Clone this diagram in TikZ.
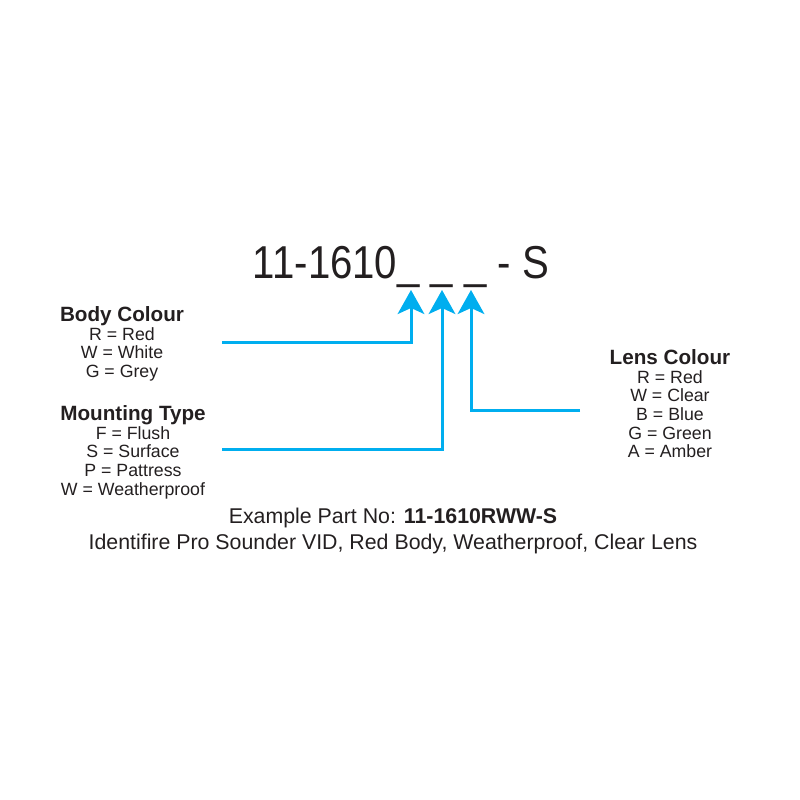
\documentclass[tikz,border=0pt]{standalone}
\usepackage{fontspec}
\setmainfont{Liberation Sans}
\usetikzlibrary{arrows.meta, positioning}
\definecolor{feedblue}{HTML}{00AEEF}
\definecolor{inkgrey}{HTML}{231F20}

\begin{document}
\begin{tikzpicture}[x=0.75pt, y=-0.75pt,
        head/.style={inner sep=0pt, text=inkgrey, font=\bfseries\fontsize{15.5}{17}\selectfont},
        choices/.style={inner sep=0pt, align=center, text=inkgrey, font=\fontsize{13.3}{14}\selectfont},
        feed/.style={draw=feedblue, line width=2.25pt, -{Stealth[length=18pt, width=20pt, inset=4.5pt]}}]
        \useasboundingbox (0,0) rectangle (800,800);

        \node[anchor=base, inner sep=0pt, text=inkgrey, font=\fontsize{34.6}{40}\selectfont] (code) at (401,278) {\scalebox{0.87}[1]{11-1610\_ \_ \_ - S}};

        \node[head, anchor=base] (bodyhead) at (122,321) {Body Colour};
        \node[choices, below=4.5pt of bodyhead.base] (bodylist) {R = Red\\ W = White\\ G = Grey};

        \node[head, anchor=base] (mounthead) at (133,420) {Mounting Type};
        \node[choices, below=4.5pt of mounthead.base] (mountlist) {F = Flush\\ S = Surface\\ P = Pattress\\ W = Weatherproof};

        \node[head, anchor=base] (lenshead) at (670,364) {Lens Colour};
        \node[choices, below=4.5pt of lenshead.base] (lenslist) {R = Red\\ W = Clear\\ B = Blue\\ G = Green\\ A = Amber};

        \node[anchor=base, inner sep=0pt, text=inkgrey, font=\fontsize{16}{18}\selectfont] (example) at (393,523) {Example Part No: \textbf{11-1610RWW-S}};
        \node[anchor=base, inner sep=0pt, text=inkgrey, font=\fontsize{16}{18}\selectfont] (caption) at (393,549) {Identifire Pro Sounder VID, Red Body, Weatherproof, Clear Lens};

        \coordinate (slot1) at (411,290);
        \coordinate (slot2) at (442,290);
        \coordinate (slot3) at (471,290);
        \coordinate (bodyend) at (222,342);
        \coordinate (mountend) at (222,449);
        \coordinate (lensend) at (580,410);

        \draw[feed] (bodyend) -| (slot1);
        \draw[feed] (mountend) -| (slot2);
        \draw[feed] (lensend) -| (slot3);
    \end{tikzpicture}
\end{document}
